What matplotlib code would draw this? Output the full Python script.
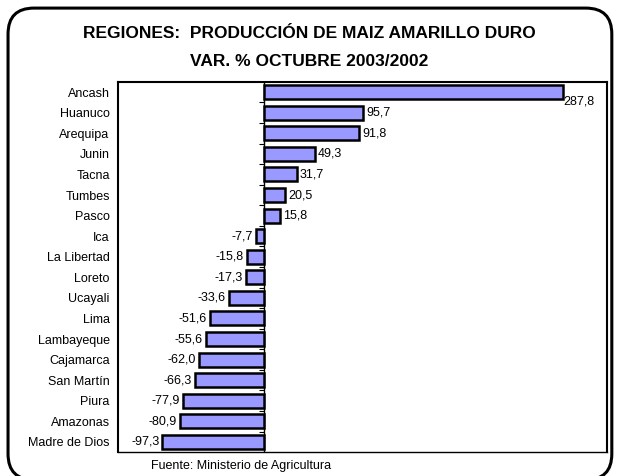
import matplotlib.pyplot as plt
from matplotlib.patches import FancyBboxPatch
from matplotlib import font_manager

regions = ["Ancash", "Huanuco", "Arequipa", "Junin", "Tacna", "Tumbes", "Pasco",
           "Ica", "La Libertad", "Loreto", "Ucayali", "Lima", "Lambayeque",
           "Cajamarca", "San Martín", "Piura", "Amazonas", "Madre de Dios"]
var_pct = [287.8, 95.7, 91.8, 49.3, 31.7, 20.5, 15.8, -7.7, -15.8, -17.3,
           -33.6, -51.6, -55.6, -62.0, -66.3, -77.9, -80.9, -97.3]

names = {f.name for f in font_manager.fontManager.ttflist}
narrow = 'Liberation Sans Narrow' if 'Liberation Sans Narrow' in names else 'Liberation Sans'
plt.rcParams['font.family'] = [narrow, 'DejaVu Sans']

fig = plt.figure(figsize=(6.18, 4.76), dpi=100)
# rounded frame round the whole chart (bottom edge just below the picture)
border = FancyBboxPatch((0.013, -0.008), 0.977, 0.991, boxstyle="round,pad=0,rounding_size=0.042",
                        transform=fig.transFigure, facecolor='none', edgecolor='black',
                        linewidth=2.2, mutation_aspect=618 / 476, zorder=5)
fig.patches.append(border)

ax = fig.add_axes([0.191, 0.05, 0.791, 0.778])
y = list(range(len(regions)))
ax.barh(y, var_pct, height=0.68, color='#9999ff', edgecolor='black', linewidth=1.8, zorder=3)
ax.axvline(0, color='black', linewidth=1, zorder=2)
ax.hlines([i + 0.5 for i in y[:-1]], -4, 0, color='black', linewidth=0.8, zorder=2)

for i, v in enumerate(var_pct):
    s = f"{v:.1f}".replace('.', ',')
    if i == 0:
        ax.text(v, i + 0.45, s, ha='left', va='center', fontsize=9)
    elif v >= 0:
        ax.text(v + 3, i, s, ha='left', va='center', fontsize=9)
    else:
        ax.text(v - 3, i, s, ha='right', va='center', fontsize=9)

ax.set_xlim(-140, 330)
ax.set_ylim(17.5, -0.5)
ax.set_yticks(y)
ax.set_yticklabels(regions, fontsize=9)
ax.tick_params(axis='y', length=0, pad=6)
ax.set_xticks([])
for sp in ax.spines.values():
    sp.set_linewidth(1.5)
ax.spines['bottom'].set_linewidth(1)

fig.text(0.5, 0.929, "REGIONES:  PRODUCCIÓN DE MAIZ AMARILLO DURO",
         ha='center', va='center', fontsize=12.5, fontweight='bold')
fig.text(0.5, 0.871, "VAR. % OCTUBRE 2003/2002",
         ha='center', va='center', fontsize=12.5, fontweight='bold')
fig.text(0.245, 0.022, "Fuente: Ministerio de Agricultura", ha='left', va='center', fontsize=9)

fig.savefig("out.png", dpi=100)
